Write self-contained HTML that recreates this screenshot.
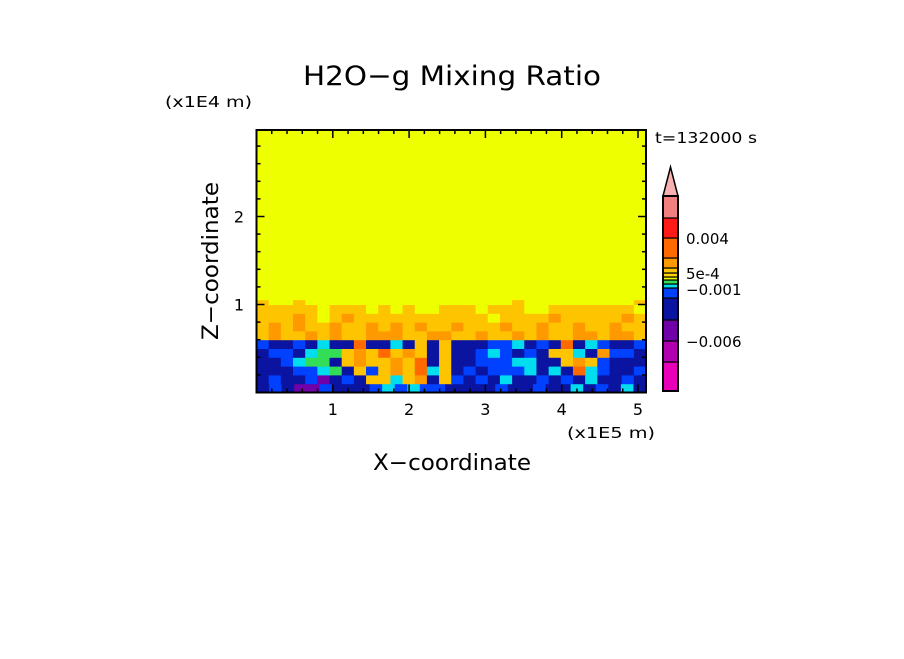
<!DOCTYPE html>
<html><head><meta charset="utf-8"><style>
body{margin:0;background:#fff;}
svg text{font-family:"DejaVu Sans","Liberation Sans",sans-serif;fill:#000;}
</style></head><body>
<svg id="chart" width="904" height="654" viewBox="0 0 904 654" xmlns="http://www.w3.org/2000/svg">
<text x="303" y="85" font-size="27" textLength="298" lengthAdjust="spacingAndGlyphs">H2O−g Mixing Ratio</text>
<text x="165" y="107" font-size="15" textLength="87" lengthAdjust="spacingAndGlyphs">(x1E4 m)</text>
<text x="655" y="143" font-size="15" textLength="102" lengthAdjust="spacingAndGlyphs">t=132000 s</text>
<text x="0" y="0" font-size="22" textLength="158" lengthAdjust="spacingAndGlyphs" transform="translate(218,340) rotate(-90)">Z−coordinate</text>
<text x="373" y="470" font-size="22" textLength="158" lengthAdjust="spacingAndGlyphs">X−coordinate</text>
<text x="567" y="438" font-size="15" textLength="88" lengthAdjust="spacingAndGlyphs">(x1E5 m)</text>
<g id="field"></g>
<g id="axes"></g>
<g id="cbar"></g>
</svg>
<script>
const xTicks=[1,2,3,4,5];
const yTicks=[1,2];
const levelColors=["#e800b8","#b000b0","#7000a8","#0a14a0","#0040ff","#00ddee","#33dd55","#eeff00","#ffd700","#ffc400","#ff9900","#ff6a00","#ff1a1a","#f08080"];
const cbarLabels=["−0.006","−0.001","5e-4","0.004"];
const cbarLabelLevels=[1,5,8,11];
const fieldRows=[
"3432243334545443333433433534353",
"3433423439959a394343533434353343",
"33344563949a9b593434445353b54334",
"33456639a99a9b393344455339a94333",
"34435669a9b9a939334543439953a443",
"43343533b3353939333445343b354334",
"9a99a9a99aaa99aa99a99a9a99aa9aa9",
"9a9a99a99a9a9a99a999a99a99a99a99",
"999a979a9999999999979999a99999a9",
"99999799979797799979997799999997",
"97797777777777777777797777777779"
];
const NS="http://www.w3.org/2000/svg";
const X0=256.5,X1=646,Y0=392.5,Y1=130;
const xMax=(X1-X0)/76.3, yMax=(Y0-Y1)/88;
const sx=v=>X0+v*76.3, sy=v=>Y0-v*88;
function mk(t,a,p){const e=document.createElementNS(NS,t);for(const k in a)e.setAttribute(k,a[k]);p.appendChild(e);return e;}
const field=document.getElementById('field');
let bg=mk('rect',{x:X0,y:Y1,width:X1-X0,height:Y0-Y1,fill:levelColors[7]},field);


const dz=0.1;
fieldRows.forEach((row,r)=>{
  const n=row.length, dx=xMax/n;
  const h=(r===fieldRows.length-1)?0.05:dz;
  for(let i=0;i<n;i++){
    const lv=parseInt(row[i],16);
    const c=mk('rect',{x:sx(i*dx),y:sy(r*dz+h),width:dx*76.3+0.5,height:h*88+0.5,fill:levelColors[lv]},field);
    
    
  }
});
const ax=document.getElementById('axes');
const fr=mk('rect',{x:X0,y:Y1,width:X1-X0,height:Y0-Y1,fill:'none',stroke:'#000','stroke-width':2},ax);


for(let v=0.2;v<xMax;v+=0.2){
  const major=Math.abs(v-Math.round(v))<0.01, L=major?8:4;
  mk('line',{x1:sx(v),x2:sx(v),y1:Y0,y2:Y0-L,stroke:'#000','stroke-width':1.5},ax);
  mk('line',{x1:sx(v),x2:sx(v),y1:Y1,y2:Y1+L,stroke:'#000','stroke-width':1.5},ax);
}
for(let v=0.2;v<yMax;v+=0.2){
  const major=Math.abs(v-Math.round(v))<0.01, L=major?8:4;
  mk('line',{x1:X0,x2:X0+L,y1:sy(v),y2:sy(v),stroke:'#000','stroke-width':1.5},ax);
  mk('line',{x1:X1,x2:X1-L,y1:sy(v),y2:sy(v),stroke:'#000','stroke-width':1.5},ax);
}
xTicks.forEach(v=>{const t=mk('text',{x:sx(v),y:415,'font-size':16,'text-anchor':'middle'},ax);t.textContent=v;

});
yTicks.forEach(v=>{const t=mk('text',{x:244,y:sy(v)+6,'font-size':16,'text-anchor':'end'},ax);t.textContent=v;

});
// colorbar (band edges from bottom, pixel layout)
const cb=document.getElementById('cbar');
const CX=663,CW=15;
const edges=[391,362,341,320,298,288,284,280,277,273,268,258,238,218,196];
levelColors.forEach((c,i)=>{const r=mk('rect',{x:CX,y:edges[i+1],width:CW,height:edges[i]-edges[i+1],fill:c,stroke:'#000','stroke-width':1.2},cb);

});
const tri=mk('polygon',{points:`${CX},196 ${CX+CW},196 ${CX+CW/2},167`,fill:'#f8b0b0',stroke:'#000','stroke-width':1.5},cb);


const ol=mk('rect',{x:CX,y:196,width:CW,height:195,fill:'none',stroke:'#000','stroke-width':2},cb);


const labelY=[341,289,273,238];
cbarLabels.forEach((s,i)=>{const t=mk('text',{x:686,y:labelY[i]+6,'font-size':15},cb);t.textContent=s;

});
</script>
</body></html>
